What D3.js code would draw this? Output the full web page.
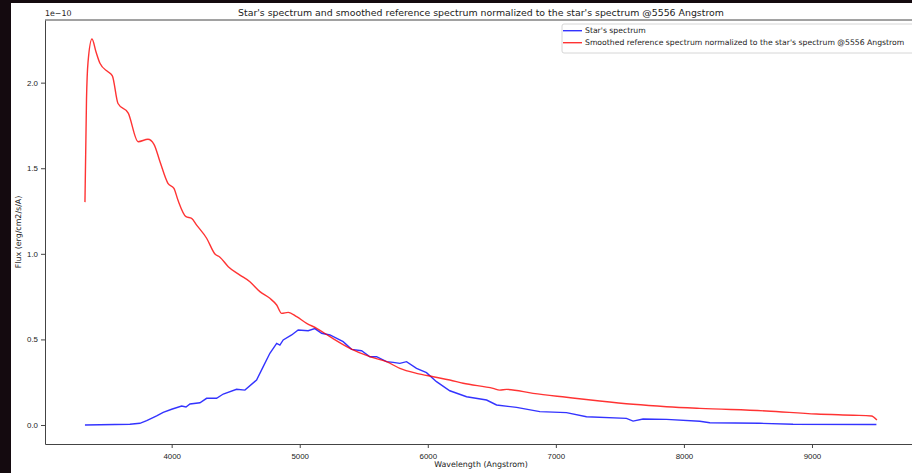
<!DOCTYPE html>
<html>
<head>
<meta charset="utf-8">
<script src="https://cdn.jsdelivr.net/npm/d3@7"></script>
<style>
  body { margin: 0; background: #140a0f; }
  svg { display: block; font-family: "DejaVu Sans", sans-serif; }
</style>
</head>
<body>
<svg></svg>
<script>
// flux values are in units of 1e-10 erg/cm2/s/A
let starWave = [3323, 3674, 3752, 3805, 3883, 3934, 4000, 4078, 4112, 4143, 4221, 4273, 4351, 4403,
    4507, 4572, 4663, 4715, 4767, 4820, 4845, 4871, 4937, 4988, 5066, 5118, 5171, 5236, 5339, 5405,
    5483, 5548, 5600, 5678, 5730, 5782, 5834, 5912, 5990, 6068, 6172, 6303, 6459, 6537, 6693, 6875,
    7083, 7239, 7551, 7603, 7681, 7864, 8124, 8202, 8592, 8852, 9503];
let starFlux = [0, 0.004, 0.01, 0.025, 0.053, 0.074, 0.092, 0.111, 0.105, 0.123, 0.130, 0.156, 0.156, 0.181,
    0.209, 0.204, 0.263, 0.341, 0.419, 0.477, 0.467, 0.497, 0.526, 0.555, 0.551, 0.563, 0.536, 0.526, 0.487, 0.442,
    0.434, 0.399, 0.399, 0.370, 0.366, 0.360, 0.370, 0.331, 0.306, 0.253, 0.200, 0.165, 0.146, 0.117, 0.103, 0.078,
    0.072, 0.048, 0.039, 0.023, 0.035, 0.033, 0.022, 0.013, 0.010, 0.004, 0.003];

let refWave = [3323, 3335, 3347, 3378, 3409, 3440, 3503, 3537, 3581, 3661, 3738, 3815, 3862, 3909, 3971,
    4018, 4049, 4112, 4156, 4195, 4273, 4338, 4377, 4442, 4533, 4611, 4689, 4767, 4820, 4859, 4910,
    4976, 5054, 5132, 5236, 5392, 5548, 5678, 5782, 5912, 6042, 6172, 6276, 6510, 6562, 6615, 6822,
    7083, 7343, 7603, 7864, 8124, 8644, 9034, 9320, 9464, 9507];
let refFlux = [1.302, 1.9, 2.12, 2.255, 2.18, 2.113, 2.063, 2.04, 1.878, 1.822, 1.655, 1.669, 1.64, 1.538, 1.412,
    1.382, 1.314, 1.217, 1.207, 1.168, 1.091, 0.999, 0.98, 0.925, 0.876, 0.837, 0.779, 0.740, 0.701, 0.652, 0.658,
    0.633, 0.594, 0.565, 0.516, 0.448, 0.399, 0.370, 0.331, 0.302, 0.282, 0.263, 0.244, 0.214, 0.204, 0.208, 0.185,
    0.162, 0.140, 0.121, 0.107, 0.097, 0.082, 0.064, 0.057, 0.053, 0.029];

let xTicks = [4000, 5000, 6000, 7000, 8000, 9000];
let yTicks = [0, 0.5, 1.0, 1.5, 2.0];

let width = 912;
let height = 473;
let plotLeft = 45, plotRight = 917, plotTop = 20, plotBottom = 444;
let fontSize = '7.9px';

let xScale = d3.scaleLinear()
                .domain([3011, 9820])
                .range([plotLeft, plotRight]);

let yScale = d3.scaleLinear()
                .domain([-0.111, 2.366])
                .range([plotBottom, plotTop]);

let svg = d3.select('svg')
    .attr('width', width)
    .attr('height', height);

svg.append('rect')
    .attr('x', 11)
    .attr('y', 3)
    .attr('width', width - 11)
    .attr('height', height - 3)
    .attr('fill', '#fff');

let xAxis = d3.axisBottom(xScale)
                .tickValues(xTicks)
                .tickFormat(d3.format('d'))
                .tickSize(4)
                .tickSizeOuter(0);

let yAxis = d3.axisLeft(yScale)
                .tickValues(yTicks)
                .tickFormat(d3.format('.1f'))
                .tickSize(4)
                .tickSizeOuter(0);

let gx = svg.append('g')
    .attr('transform', `translate(0, ${plotBottom})`)
    .call(xAxis);

let gy = svg.append('g')
    .attr('transform', `translate(${plotLeft}, 0)`)
    .call(yAxis);

[gx, gy].forEach(g => {
    g.selectAll('text').style('font-size', fontSize).attr('fill', '#222');
    g.selectAll('line').attr('stroke', '#444');
    g.select('.domain').attr('stroke', '#444');
});
gx.selectAll('text').attr('dy', '1.05em');

svg.append('line')
    .attr('x1', plotLeft).attr('x2', plotRight)
    .attr('y1', plotTop).attr('y2', plotTop)
    .attr('stroke', '#444');

let starLine = d3.line()
    .x((d, i) => xScale(starWave[i]))
    .y(d => yScale(d));

let refLine = d3.line()
    .x((d, i) => xScale(refWave[i]))
    .y(d => yScale(d))
    .curve(d3.curveMonotoneX);

svg.append('path')
    .datum(starFlux)
    .attr('d', starLine)
    .attr('fill', 'none')
    .attr('stroke', '#0000ff')
    .attr('stroke-opacity', 0.8)
    .attr('stroke-width', 1.4);

svg.append('path')
    .datum(refFlux)
    .attr('d', refLine)
    .attr('fill', 'none')
    .attr('stroke', '#ff0000')
    .attr('stroke-opacity', 0.8)
    .attr('stroke-width', 1.4);

// legend
let legend = svg.append('g');
legend.append('rect')
    .attr('x', 562)
    .attr('y', 24)
    .attr('width', 360)
    .attr('height', 29)
    .attr('rx', 2)
    .attr('fill', '#fff')
    .attr('fill-opacity', 0.8)
    .attr('stroke', '#d6d6d6');

let legendItems = [
    {label: "Star's spectrum", color: '#0000ff'},
    {label: "Smoothed reference spectrum normalized to the star's spectrum @5556 Angstrom", color: '#ff0000'}
];

legendItems.forEach((item, i) => {
    let y = 30.7 + i * 12;
    legend.append('line')
        .attr('x1', 563).attr('x2', 582)
        .attr('y1', y).attr('y2', y)
        .attr('stroke', item.color)
        .attr('stroke-opacity', 0.8)
        .attr('stroke-width', 1.4);
    legend.append('text')
        .attr('x', 585)
        .attr('y', y)
        .attr('dy', '0.35em')
        .style('font-size', '7.7px')
        .attr('fill', '#222')
        .text(item.label);
});

svg.append('text')
    .attr('x', (plotLeft + plotRight) / 2)
    .attr('y', 16)
    .style('text-anchor', 'middle')
    .style('font-size', '9.4px')
    .attr('fill', '#222')
    .text("Star's spectrum and smoothed reference spectrum normalized to the star's spectrum @5556 Angstrom");

svg.append('text')
    .attr('x', plotLeft)
    .attr('y', 16)
    .style('font-size', fontSize)
    .attr('fill', '#222')
    .text('1e\u221210');

svg.append('text')
    .attr('x', (plotLeft + plotRight) / 2)
    .attr('y', 467)
    .style('text-anchor', 'middle')
    .style('font-size', fontSize)
    .attr('fill', '#222')
    .text('Wavelength (Angstrom)');

svg.append('text')
    .attr('transform', 'rotate(-90)')
    .attr('x', -(plotTop + plotBottom) / 2)
    .attr('y', 21)
    .style('text-anchor', 'middle')
    .style('font-size', fontSize)
    .attr('fill', '#222')
    .text('Flux (erg/cm2/s/A)');
</script>
</body>
</html>
